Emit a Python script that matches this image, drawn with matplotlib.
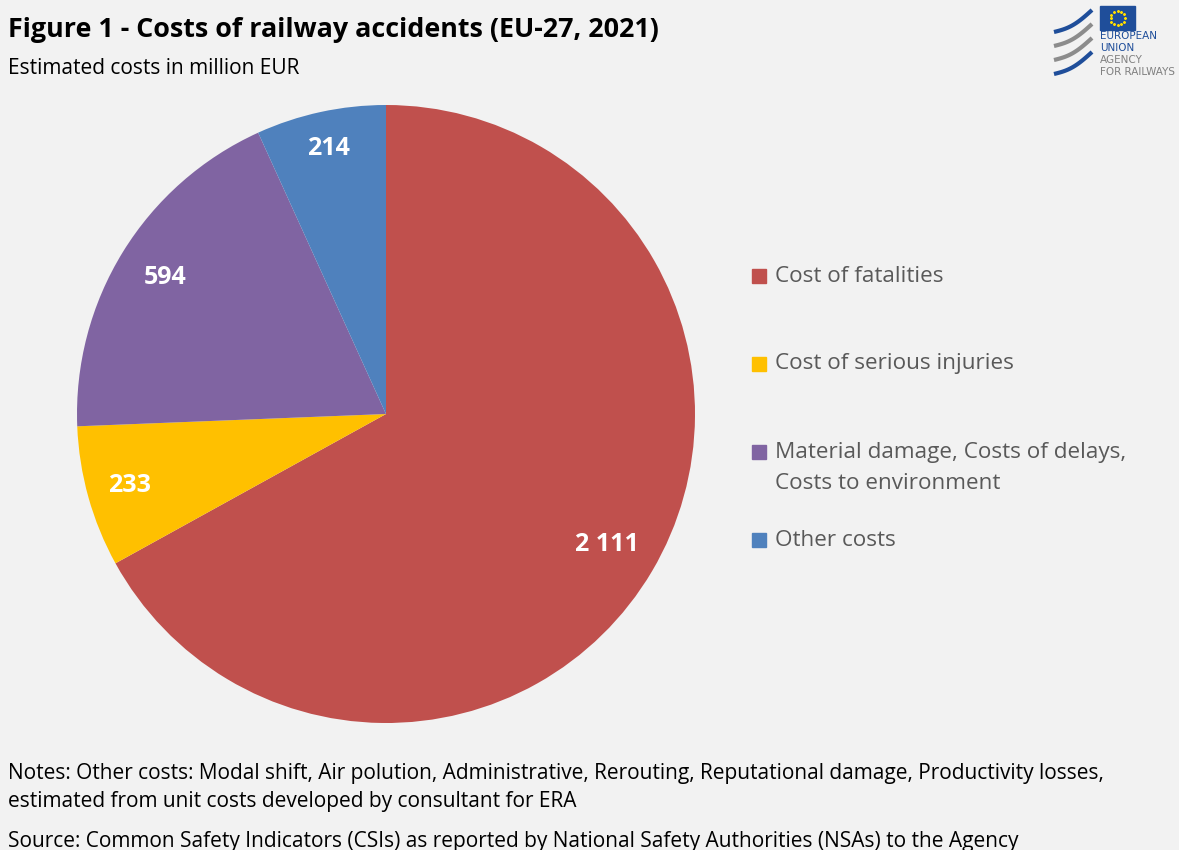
import matplotlib
matplotlib.use("Agg")
import matplotlib.pyplot as plt
import numpy as np
from matplotlib.patches import Rectangle

# ---- data ----
categories = ["Cost of fatalities", "Cost of serious injuries",
              "Material damage, Costs of delays,\nCosts to environment", "Other costs"]
values = [2111, 233, 594, 214]
value_labels = ["2 111", "233", "594", "214"]
colors = ["#C0504D", "#FFC000", "#8064A2", "#4F81BD"]

plt.rcParams['font.family'] = ['Open Sans', 'DejaVu Sans']

W, H = 1179, 850
bg = "#F2F2F2"
fig = plt.figure(figsize=(W / 100, H / 100), dpi=100, facecolor=bg)

# pie axes
cx, cy, r = 386, 414, 309
ax = fig.add_axes([(cx - r) / W, (H - cy - r) / H, 2 * r / W, 2 * r / H])
ax.set_facecolor(bg)
wedges, _ = ax.pie(values, colors=colors, startangle=90, counterclock=False,
                   radius=1.0, wedgeprops=dict(linewidth=0))
ax.set_xlim(-1, 1); ax.set_ylim(-1, 1); ax.set_aspect('equal'); ax.axis('off')
dists = [0.83, 0.86, 0.84, 0.88]
for w, lab, d in zip(wedges, value_labels, dists):
    ang = np.deg2rad((w.theta1 + w.theta2) / 2)
    ax.text(d * np.cos(ang), d * np.sin(ang), lab, ha='center', va='center',
            color='white', fontsize=18, fontweight='bold')

# titles
fig.text(8 / W, 1 - 30 / H, "Figure 1 - Costs of railway accidents (EU-27, 2021)",
         fontsize=19.4, fontweight='bold', color='black', va='center', ha='left')
fig.text(8 / W, 1 - 68 / H, "Estimated costs in million EUR", fontsize=15,
         color='black', va='center', ha='left')

# legend
leg_y = [276, 364, 468, 540]
for lab, col, y in zip(categories, colors, leg_y):
    nl = lab.count("\n")
    sq_y = y - 16 * nl
    fig.patches.append(Rectangle((752 / W, 1 - (sq_y + 7) / H), 14 / W, 14 / H,
                                 transform=fig.transFigure, color=col, figure=fig))
    fig.text(775 / W, 1 - y / H, lab, fontsize=16.2, color='#595959', va='center',
             ha='left', linespacing=1.6)

# notes
fig.text(8 / W, 1 - 773 / H, "Notes: Other costs: Modal shift, Air polution, Administrative, Rerouting, Reputational damage, Productivity losses,",
         fontsize=15, color='black', va='center', ha='left')
fig.text(8 / W, 1 - 802 / H, "estimated from unit costs developed by consultant for ERA",
         fontsize=15, color='black', va='center', ha='left')
fig.text(8 / W, 1 - 841 / H, "Source: Common Safety Indicators (CSIs) as reported by National Safety Authorities (NSAs) to the Agency",
         fontsize=15, color='black', va='center', ha='left')

# logo
lax = fig.add_axes([1050 / W, 1 - 88 / H, 129 / W, 86 / H])
lax.set_xlim(0, 129); lax.set_ylim(86, 0); lax.axis('off')
lax.add_patch(Rectangle((50, 4), 35, 24, color='#1F4E9A'))
th = np.linspace(0, 2 * np.pi, 13)[:-1]
lax.scatter(67.5 + 7 * np.cos(th), 16 + 7 * np.sin(th), s=1.5, color='#FFDD00', marker='*')
lax.text(50, 34, "EUROPEAN", fontsize=7.5, color='#1F4E9A', va='center', family='DejaVu Sans')
lax.text(50, 46, "UNION", fontsize=7.5, color='#1F4E9A', va='center', family='DejaVu Sans')
lax.text(50, 58, "AGENCY", fontsize=7.5, color='#808080', va='center', family='DejaVu Sans')
lax.text(50, 70, "FOR RAILWAYS", fontsize=7.5, color='#808080', va='center', family='DejaVu Sans')
t = np.linspace(0, 1, 50)
for i, col in enumerate(['#1F4E9A', '#8C8C8C', '#8C8C8C', '#1F4E9A']):
    y0 = 30 + i * 14
    xs = 4 + 38 * t
    ys = y0 - 22 * t + 4 * np.sin(np.pi * t)
    lax.plot(xs, ys, color=col, lw=3, solid_capstyle='butt')

fig.savefig("out.png", dpi=100, facecolor=bg)
